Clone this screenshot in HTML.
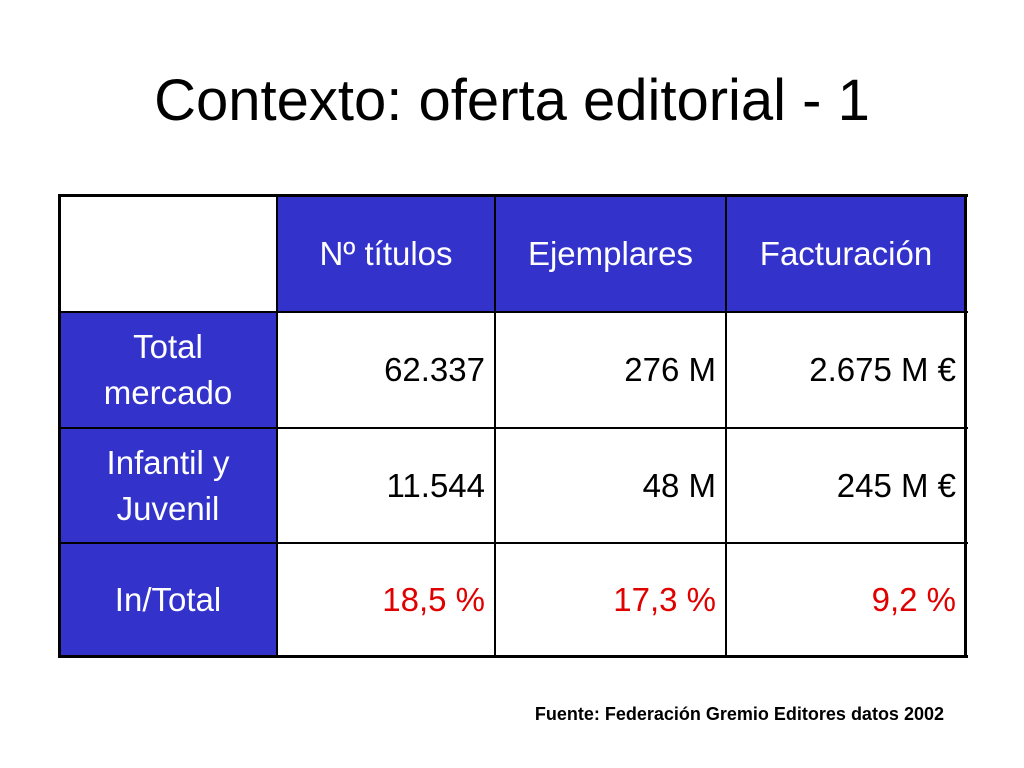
<!DOCTYPE html>
<html><head><meta charset="utf-8"><style>
body{margin:0;width:1024px;height:768px;background:#fff;position:relative;overflow:hidden;font-family:"Liberation Sans",Arial,sans-serif}
.t{position:absolute;left:0;width:1024px;top:66px;text-align:center;font-size:58px;color:#000;line-height:70px}
.c{position:absolute;box-sizing:border-box;display:flex;align-items:center;font-size:33px;line-height:46px;color:#000}
.b{background:#3333cc;color:#fff;justify-content:center;text-align:center}
.w{background:#fff;justify-content:flex-end;padding-right:10px}
.r{color:#e00000}
.h{position:absolute;background:#000}
.src{position:absolute;right:80px;top:704px;font-size:18px;font-weight:bold}
</style></head><body>
<div class="t">Contexto: oferta editorial - 1</div>
<div>
<div class="c w" style="left:59px;top:196px;width:218px;height:116px"></div>
<div class="c b" style="left:277px;top:196px;width:218px;height:116px">Nº títulos</div>
<div class="c b" style="left:495px;top:196px;width:231px;height:116px">Ejemplares</div>
<div class="c b" style="left:726px;top:196px;width:240px;height:116px">Facturación</div>

<div class="c b" style="left:59px;top:312px;width:218px;height:116px">Total<br>mercado</div>
<div class="c w" style="left:277px;top:312px;width:218px;height:116px">62.337</div>
<div class="c w" style="left:495px;top:312px;width:231px;height:116px">276 M</div>
<div class="c w" style="left:726px;top:312px;width:240px;height:116px">2.675 M €</div>

<div class="c b" style="left:59px;top:428px;width:218px;height:115px">Infantil y<br>Juvenil</div>
<div class="c w" style="left:277px;top:428px;width:218px;height:115px">11.544</div>
<div class="c w" style="left:495px;top:428px;width:231px;height:115px">48 M</div>
<div class="c w" style="left:726px;top:428px;width:240px;height:115px">245 M €</div>

<div class="c b" style="left:59px;top:543px;width:218px;height:114px">In/Total</div>
<div class="c w r" style="left:277px;top:543px;width:218px;height:114px">18,5 %</div>
<div class="c w r" style="left:495px;top:543px;width:231px;height:114px">17,3 %</div>
<div class="c w r" style="left:726px;top:543px;width:240px;height:114px">9,2 %</div>

<div class="h" style="left:58px;top:194px;width:910px;height:3px"></div>
<div class="h" style="left:58px;top:655px;width:910px;height:3px"></div>
<div class="h" style="left:58px;top:194px;width:3px;height:464px"></div>
<div class="h" style="left:964px;top:194px;width:3px;height:464px"></div>
<div class="h" style="left:276px;top:194px;width:2px;height:464px"></div>
<div class="h" style="left:494px;top:194px;width:2px;height:464px"></div>
<div class="h" style="left:725px;top:194px;width:2px;height:464px"></div>
<div class="h" style="left:58px;top:311px;width:910px;height:2px"></div>
<div class="h" style="left:58px;top:427px;width:910px;height:2px"></div>
<div class="h" style="left:58px;top:542px;width:910px;height:2px"></div>
</div>
<div class="src">Fuente: Federación Gremio Editores datos 2002</div>
</body></html>
